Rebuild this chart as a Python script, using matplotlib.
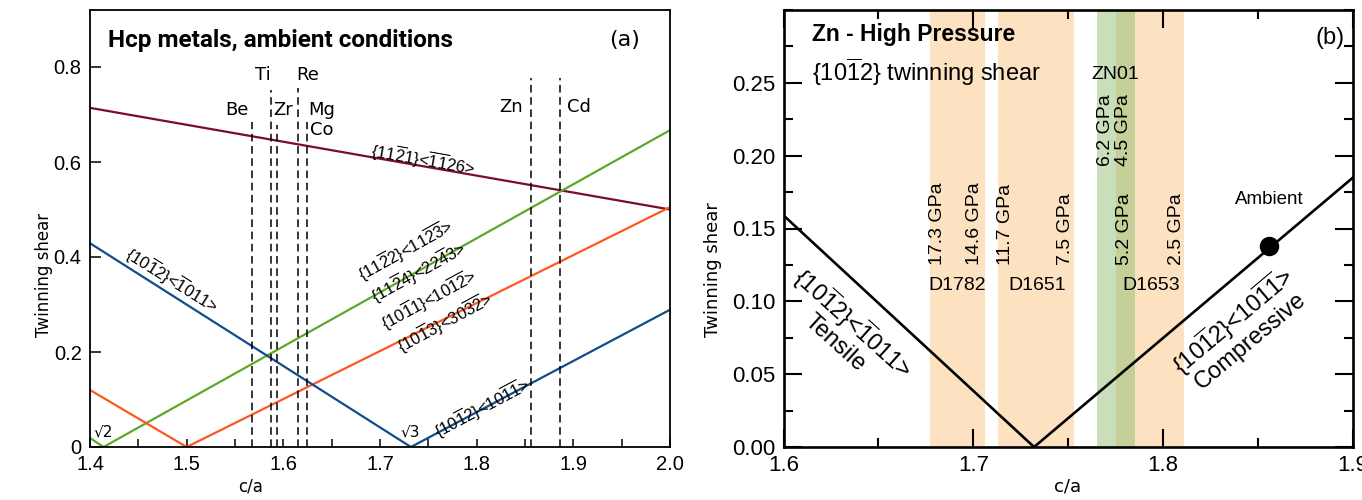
import numpy as np
import matplotlib
matplotlib.use("Agg")
import matplotlib.pyplot as plt
from matplotlib.ticker import MultipleLocator

plt.rcParams["mathtext.default"] = "regular"
TICKFONT = "Liberation Sans"

# ---------------- panel (a) data ----------------
ca_1012 = [1.4, 1.732, 2.0]
s_1012 = [0.429, 0.0, 0.289]
ca_1011 = [1.4, 1.5, 2.0]
s_1011 = [0.12, 0.0, 0.505]
ca_1122 = [1.4, 1.414, 2.0]
s_1122 = [0.019, 0.0, 0.667]
ca_1121 = [1.4, 2.0]
s_1121 = [0.714, 0.5]

metal_ca = [1.568, 1.587, 1.593, 1.615, 1.624, 1.856, 1.886]
metal_top = [0.684, 0.752, 0.678, 0.756, 0.684, 0.777, 0.777]
metal_names = ["Be", "Ti", "Zr", "Re", "Mg", "Co", "Zn", "Cd"]
metal_lx = [1.5518, 1.5790, 1.5996, 1.6255, 1.6397, 1.6397, 1.8355, 1.9058]
metal_ly = [0.7095, 0.783, 0.7095, 0.783, 0.7095, 0.667, 0.7158, 0.7158]

# ---------------- panel (b) data ----------------
ca_zn = [1.6, 1.732, 1.9]
s_zn = [0.159, 0.0, 0.185]
ambient_ca, ambient_s = 1.856, 0.138
bands_orange = [(1.677, 1.706), (1.713, 1.753), (1.775, 1.811)]
band_green = (1.765, 1.785)
run_names = ["D1782", "D1651", "D1653"]
run_x = [1.6914, 1.7336, 1.7937]
p_labels = ["17.3 GPa", "14.6 GPa", "11.7 GPa", "7.5 GPa", "5.2 GPa", "2.5 GPa"]
p_x = [1.6811, 1.7004, 1.7167, 1.7488, 1.7794, 1.8068]
zn01_labels = ["6.2 GPa", "4.5 GPa"]
zn01_x = [1.7694, 1.7789]

MAROON = "#7d0c28"
BLUE = "#0f4d8c"
ORANGE = "#ff5722"
GREEN = "#5ca82a"

fig = plt.figure(figsize=(13.62, 5), dpi=100)

# =============== (a) ===============
ax = fig.add_axes([90 / 1362, 53 / 500, 580 / 1362, 437 / 500])
ax.plot(ca_1121, s_1121, color=MAROON, lw=1.6)
ax.plot(ca_1122, s_1122, color=GREEN, lw=1.6)
ax.plot(ca_1011, s_1011, color=ORANGE, lw=1.6)
ax.plot(ca_1012, s_1012, color=BLUE, lw=1.6)

for x, top in zip(metal_ca, metal_top):
    ax.plot([x, x], [0, top], color="black", lw=1.1, dashes=(5, 3))
for name, x, y in zip(metal_names, metal_lx, metal_ly):
    ax.text(x, y, name, fontsize=13, ha="center", va="center")

lab_kw = dict(fontsize=12, family=TICKFONT, ha="center", va="center", rotation_mode="anchor")
ax.text(1.745, 0.604, r"$\{11\overline{2}1\}$<$\overline{1}\overline{1}26$>", rotation=-10, **lab_kw)
ax.text(1.7269, 0.4147, r"$\{11\overline{2}2\}$<$11\overline{2}\overline{3}$>", rotation=29, **lab_kw)
ax.text(1.7403, 0.3684, r"$\{11\overline{2}4\}$<$22\overline{4}3$>", rotation=29, **lab_kw)
ax.text(1.7507, 0.3095, r"$\{10\overline{1}1\}$<$10\overline{1}\overline{2}$>", rotation=28.5, **lab_kw)
ax.text(1.7672, 0.2611, r"$\{10\overline{1}3\}$<$30\overline{3}\overline{2}$>", rotation=28.5, **lab_kw)
ax.text(1.4848, 0.3516, r"$\{10\overline{1}2\}$<$\overline{1}011$>", rotation=-32, **lab_kw)
ax.text(1.8055, 0.0821, r"$\{10\overline{1}2\}$<$10\overline{1}\overline{1}$>", rotation=28, **lab_kw)
ax.text(1.4134, 0.0316, "√2", fontsize=11, ha="center", va="center")
ax.text(1.731, 0.0316, "√3", fontsize=11, ha="center", va="center")

ax.text(0.031, 0.931, "Hcp metals, ambient conditions", transform=ax.transAxes,
        fontsize=17.5, fontweight="bold", family="Roboto", ha="left", va="center")
ax.text(0.922, 0.931, "(a)", transform=ax.transAxes, fontsize=16, ha="center", va="center")

ax.set_xlim(1.4, 2.0)
ax.set_ylim(0, 0.92)
ax.xaxis.set_minor_locator(MultipleLocator(0.05))
ax.set_yticks([0, 0.2, 0.4, 0.6, 0.8])
ax.set_yticklabels(["0", "0.2", "0.4", "0.6", "0.8"])
ax.set_xticks([1.4, 1.5, 1.6, 1.7, 1.8, 1.9, 2.0])
ax.set_xticklabels(["1.4", "1.5", "1.6", "1.7", "1.8", "1.9", "2.0"])
ax.tick_params(which="both", direction="in", width=1.1, pad=6, labelsize=14.5,
               labelfontfamily=TICKFONT)
ax.tick_params(axis="y", length=8)
ax.tick_params(axis="x", which="both", length=6)
for sp in ax.spines.values():
    sp.set_linewidth(1.3)
ax.set_xlabel("c/a", fontsize=12, va="center")
ax.set_ylabel("Twinning shear", fontsize=12, va="center")
ax.xaxis.set_label_coords(0.276, -0.0915)
ax.yaxis.set_label_coords(-0.08, 0.394)

# =============== (b) ===============
bx = fig.add_axes([783.5 / 1362, 53 / 500, 569.5 / 1362, 437 / 500])
for lo, hi in bands_orange:
    bx.axvspan(lo, hi, color="#fde2c2", lw=0, zorder=0)
bx.axvspan(band_green[0], band_green[1], color="#85b866", alpha=0.45, lw=0, zorder=0)

bx.plot(ca_zn, s_zn, color="black", lw=1.9)
bx.plot([ambient_ca], [ambient_s], "o", color="black", ms=13)
bx.text(ambient_ca, 0.1699, "Ambient", fontsize=13.5, family="Liberation Sans",
        ha="center", va="center")

for x, t in zip(p_x, p_labels):
    bx.text(x, 0.125, t, rotation=90, fontsize=14, family="Liberation Sans",
            ha="center", va="bottom")
for x, t in zip(zn01_x, zn01_labels):
    bx.text(x, 0.193, t, rotation=90, fontsize=14, family="Liberation Sans",
            ha="center", va="bottom")
for x, t in zip(run_x, run_names):
    bx.text(x, 0.111, t, fontsize=14, family="Liberation Sans", ha="center", va="center")
bx.text(1.7745, 0.256, "ZN01", fontsize=14, family="Liberation Sans", ha="center", va="center")

bx.text(1.6327, 0.0795, r"$\{10\overline{1}2\}$<$\overline{1}011$>" + "\nTensile",
        rotation=-42, rotation_mode="anchor", ha="center", va="center",
        multialignment="center", fontsize=17, family="Liberation Sans", linespacing=1.0)
bx.text(1.8405, 0.0808, r"$\{10\overline{1}2\}$<$10\overline{1}\overline{1}$>" + "\nCompressive",
        rotation=40, rotation_mode="anchor", ha="center", va="center",
        multialignment="center", fontsize=17, family="Liberation Sans", linespacing=1.0)

bx.text(0.05, 0.943, "Zn - High Pressure", transform=bx.transAxes, fontsize=16.5,
        fontweight="bold", family="Liberation Sans", ha="left", va="center")
bx.text(0.05, 0.858, r"$\{10\overline{1}2\}$ twinning shear", transform=bx.transAxes,
        fontsize=17, family="Liberation Sans", ha="left", va="center")
bx.text(0.96, 0.937, "(b)", transform=bx.transAxes, fontsize=17,
        family="Liberation Sans", ha="center", va="center")

bx.set_xlim(1.6, 1.9)
bx.set_ylim(0, 0.3)
bx.xaxis.set_minor_locator(MultipleLocator(0.05))
bx.yaxis.set_minor_locator(MultipleLocator(0.025))
bx.set_yticks([0, 0.05, 0.1, 0.15, 0.2, 0.25])
bx.set_yticklabels(["0.00", "0.05", "0.10", "0.15", "0.20", "0.25"])
bx.set_xticks([1.6, 1.7, 1.8, 1.9])
bx.set_xticklabels(["1.6", "1.7", "1.8", "1.9"])
bx.tick_params(which="both", direction="in", top=True, right=True, width=1.5, pad=6,
               labelsize=16, labelfontfamily=TICKFONT)
bx.tick_params(which="major", length=13)
bx.tick_params(which="minor", length=6.5)
for sp in bx.spines.values():
    sp.set_linewidth(1.9)
bx.set_xlabel("c/a", fontsize=13, va="center")
bx.set_ylabel("Twinning shear", fontsize=13, va="center")
bx.xaxis.set_label_coords(0.4996, -0.0915)
bx.yaxis.set_label_coords(-0.124, 0.405)

fig.savefig("out.png", dpi=100)
